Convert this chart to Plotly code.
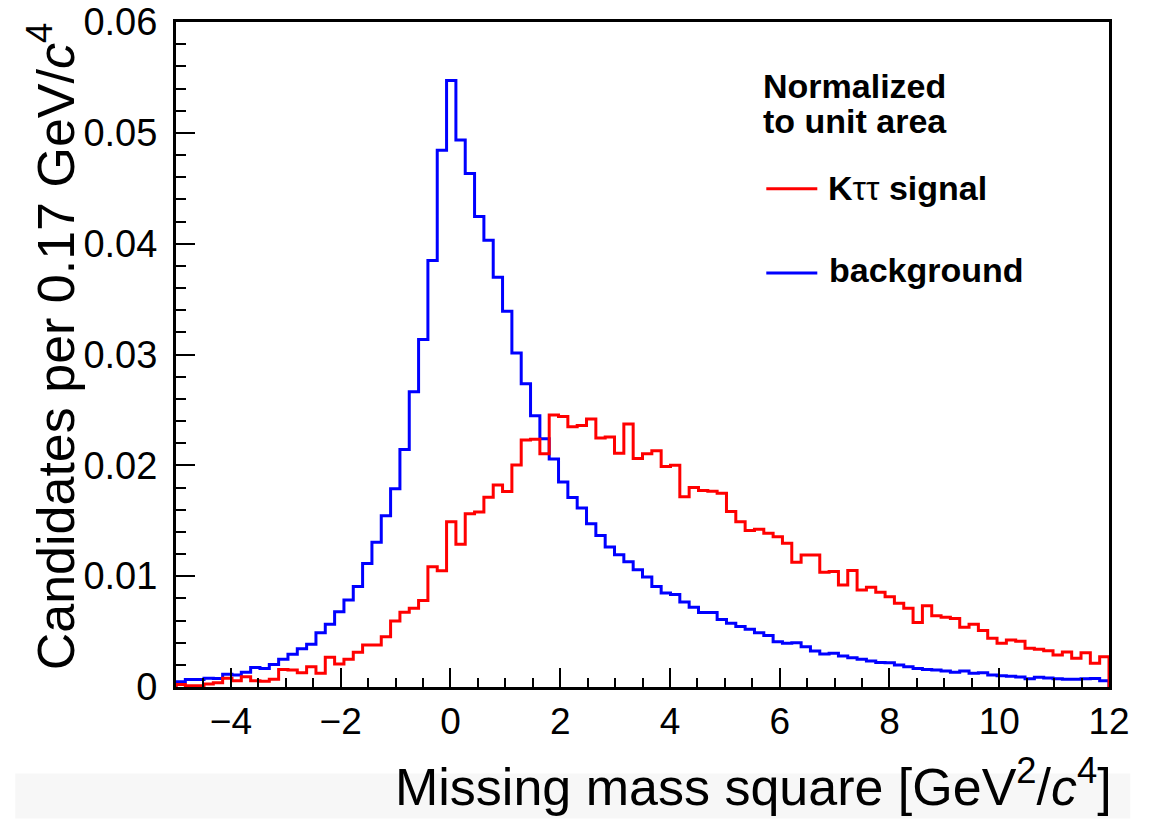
import plotly.graph_objects as go

# Binning: 100 bins of 0.17 GeV^2/c^4 from -5 to 12
x_min = -5.0
bin_width = 0.17
n_bins = 100

# K tau tau signal, normalized to unit area
signal = [
    0.00023, 0.00011, 0.00011, 0.00026, 0.00038, 0.00078, 0.00056, 0.00092, 0.00056, 0.00053,
    0.00071, 0.00159, 0.00153, 0.00129, 0.00183, 0.00123, 0.00268, 0.00207, 0.00250, 0.00313,
    0.00379, 0.00379, 0.00454, 0.00596, 0.00675, 0.00711, 0.00780, 0.01085, 0.01048, 0.01490,
    0.01288, 0.01563, 0.01578, 0.01713, 0.01822, 0.01764, 0.02004, 0.02228, 0.02235, 0.02104,
    0.02455, 0.02441, 0.02348, 0.02360, 0.02418, 0.02246, 0.02255, 0.02110, 0.02372, 0.02061,
    0.02104, 0.02131, 0.01989, 0.02001, 0.01717, 0.01800, 0.01772, 0.01766, 0.01748, 0.01583,
    0.01492, 0.01411, 0.01423, 0.01387, 0.01356, 0.01296, 0.01125, 0.01192, 0.01192, 0.01036,
    0.01042, 0.00921, 0.01051, 0.00876, 0.00900, 0.00855, 0.00815, 0.00756, 0.00711, 0.00581,
    0.00732, 0.00642, 0.00630, 0.00617, 0.00539, 0.00566, 0.00509, 0.00440, 0.00394, 0.00424,
    0.00412, 0.00349, 0.00340, 0.00328, 0.00289, 0.00316, 0.00259, 0.00310, 0.00214, 0.00274,
]

# Background, normalized to unit area
background = [
    0.00047, 0.00068, 0.00068, 0.00080, 0.00077, 0.00114, 0.00108, 0.00132, 0.00177, 0.00168,
    0.00204, 0.00250, 0.00295, 0.00346, 0.00385, 0.00490, 0.00566, 0.00680, 0.00786, 0.00907,
    0.01114, 0.01307, 0.01546, 0.01789, 0.02142, 0.02663, 0.03135, 0.03849, 0.04842, 0.05473,
    0.04935, 0.04634, 0.04246, 0.04030, 0.03696, 0.03390, 0.03014, 0.02736, 0.02447, 0.02239,
    0.02057, 0.01849, 0.01710, 0.01615, 0.01473, 0.01368, 0.01263, 0.01194, 0.01130, 0.01058,
    0.00992, 0.00907, 0.00847, 0.00835, 0.00766, 0.00720, 0.00672, 0.00672, 0.00608, 0.00575,
    0.00545, 0.00521, 0.00490, 0.00464, 0.00409, 0.00394, 0.00400, 0.00364, 0.00325, 0.00298,
    0.00304, 0.00280, 0.00264, 0.00250, 0.00234, 0.00222, 0.00219, 0.00198, 0.00183, 0.00168,
    0.00159, 0.00153, 0.00144, 0.00132, 0.00144, 0.00123, 0.00129, 0.00108, 0.00102, 0.00096,
    0.00090, 0.00074, 0.00087, 0.00081, 0.00074, 0.00071, 0.00071, 0.00074, 0.00077, 0.00056,
]

x_tick_vals = [-4, -2, 0, 2, 4, 6, 8, 10, 12]
x_tick_text = ["\u22124", "\u22122", "0", "2", "4", "6", "8", "10", "12"]
y_tick_vals = [0, 0.01, 0.02, 0.03, 0.04, 0.05, 0.06]
y_tick_text = ["0", "0.01", "0.02", "0.03", "0.04", "0.05", "0.06"]

RED = "#ff0000"
BLUE = "#0000ff"
SANS = "Liberation Sans, Arial, Helvetica, sans-serif"

edges = [x_min + bin_width * i for i in range(n_bins + 1)]


def outline(values):
    """Step outline of a histogram, closed down to zero at both ends."""
    xs = [edges[0]] + edges[:n_bins] + [edges[n_bins]]
    ys = [0.0] + list(values) + [0.0]
    return xs, ys


fig = go.Figure()
for values, color, name in [(background, BLUE, "background"), (signal, RED, "K\u03c4\u03c4 signal")]:
    xs, ys = outline(values)
    fig.add_trace(go.Scatter(
        x=xs, y=ys, mode="lines", name=name,
        line=dict(color=color, width=3, shape="hv"),
        hoverinfo="skip",
    ))

# Plot-area geometry in pixels (used to place texts in paper coordinates)
W, H = 1153, 836
L, R, T, B = 175.7, 1108.7, 22.3, 686.7


def px(xpix):
    return (xpix - L) / (R - L)


def py(ypix):
    return (B - ypix) / (B - T)


minor_x = [x_min + 0.5 * k for k in range(35)]
minor_y = [0.002 * k for k in range(31)]

fig.update_layout(
    width=W, height=H,
    margin=dict(l=L, r=W - R, t=T, b=H - B, pad=0, autoexpand=False),
    plot_bgcolor="white", paper_bgcolor="white",
    showlegend=False,
    xaxis=dict(
        range=[-5, 12], showgrid=False, zeroline=False, automargin=False,
        showline=True, linecolor="black", linewidth=3, mirror=True,
        ticks="inside", ticklen=19, tickwidth=1.5, tickcolor="black",
        tickvals=x_tick_vals, ticktext=x_tick_text,
        tickfont=dict(family=SANS, size=37, color="black"),
        ticklabelstandoff=0,
        minor=dict(ticks="inside", ticklen=9, tickwidth=1.5, tickcolor="black",
                   tickvals=minor_x, showgrid=False),
    ),
    yaxis=dict(
        range=[0, 0.06], showgrid=False, zeroline=False, automargin=False,
        showline=True, linecolor="black", linewidth=3, mirror=True,
        ticks="inside", ticklen=19, tickwidth=1.5, tickcolor="black",
        tickvals=y_tick_vals, ticktext=y_tick_text,
        tickfont=dict(family=SANS, size=38, color="black"),
        ticklabelstandoff=8,
        minor=dict(ticks="inside", ticklen=10, tickwidth=1.5, tickcolor="black",
                   tickvals=minor_y, showgrid=False),
    ),
)

annotations = [
    # axis titles
    dict(text="Missing mass square [GeV<sup>2</sup>/<i>c</i><sup>4</sup>]",
         x=px(1114), y=py(783), xanchor="right", yanchor="middle",
         font=dict(family=SANS, size=52, color="black")),
    dict(text="Candidates per 0.17 GeV/<i>c</i><sup>4</sup>", textangle=-90,
         x=px(52), y=py(346), xanchor="center", yanchor="middle",
         font=dict(family=SANS, size=52, color="black")),
    # legend block
    dict(text="<b>Normalized</b>", x=px(761), y=py(86), xanchor="left", yanchor="middle",
         font=dict(family=SANS, size=34, color="black")),
    dict(text="<b>to unit area</b>", x=px(761), y=py(121), xanchor="left", yanchor="middle",
         font=dict(family=SANS, size=34, color="black")),
    dict(text="<b>K</b>\u03c4\u03c4<b> signal</b>", x=px(826), y=py(188), xanchor="left", yanchor="middle",
         font=dict(family=SANS, size=34, color="black")),
    dict(text="<b>background</b>", x=px(827), y=py(270), xanchor="left", yanchor="middle",
         font=dict(family=SANS, size=34, color="black")),
]
for a in annotations:
    a.update(xref="paper", yref="paper", showarrow=False)
fig.update_layout(annotations=annotations)

# legend line samples
for color, ypix in [(RED, 189), (BLUE, 273)]:
    fig.add_shape(type="line", xref="paper", yref="paper",
                  x0=px(766), x1=px(817), y0=py(ypix), y1=py(ypix),
                  line=dict(color=color, width=3))

# faint grey strip along the bottom of the canvas
fig.add_shape(type="rect", xref="paper", yref="paper", layer="below",
              x0=px(15), x1=px(1130), y0=py(818), y1=py(773),
              fillcolor="#f7f7f7", line=dict(width=0))

fig.write_html("out.html")
